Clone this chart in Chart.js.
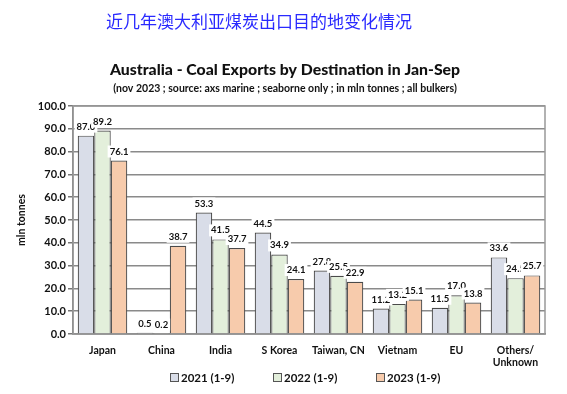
<!DOCTYPE html>
<html>
<head>
<meta charset="utf-8">
<script src="https://cdn.jsdelivr.net/npm/chart.js@4.4.0/dist/chart.umd.min.js"></script>
<style>
  html, body { margin: 0; padding: 0; background: #fff; }
  #wrap { width: 567px; height: 394px; position: relative; }
</style>
</head>
<body>
<div id="wrap"><canvas id="myChart" width="567" height="394"></canvas></div>
<script>
var destinations = ['Japan', 'China', 'India', 'S Korea', 'Taiwan, CN', 'Vietnam', 'EU', ['Others/', 'Unknown']];
var values2021 = [87.0, 0.5, 53.3, 44.5, 27.8, 11.2, 11.5, 33.6];
var values2022 = [89.2, 0.2, 41.5, 34.9, 25.5, 13.2, 17.0, 24.5];
var values2023 = [76.1, 38.7, 37.7, 24.1, 22.9, 15.1, 13.8, 25.7];
var seriesNames = ['2021 (1-9)', '2022 (1-9)', '2023 (1-9)'];
var yTicks = [0, 10, 20, 30, 40, 50, 60, 70, 80, 90, 100];

var FONT = 'Lato, "Open Sans", sans-serif';
var fills = ['#D9DDE8', '#E3EFDB', '#F7CBAC'];

// titles and legend drawn on the canvas
var titlePlugin = {
    id: 'titles',
    afterDraw: function (chart) {
        var ctx = chart.ctx;
        ctx.save();
        ctx.textAlign = 'center';
        ctx.textBaseline = 'middle';
        ctx.fillStyle = '#2a2aff';
        ctx.font = '17px "Noto Sans CJK SC"';
        ctx.fillText('近几年澳大利亚煤炭出口目的地变化情况', 259, 22);
        ctx.fillStyle = '#111';
        ctx.font = '900 15.8px ' + FONT;
        ctx.fillText('Australia - Coal Exports by Destination in Jan-Sep', 285, 70);
        ctx.font = 'bold 10.5px ' + FONT;
        ctx.fillText('(nov 2023 ; source: axs marine ; seaborne only ; in mln tonnes ; all bulkers)', 285, 89);

        // legend
        var legendX = [170, 273, 376];
        ctx.textAlign = 'left';
        ctx.font = 'bold 11.5px ' + FONT;
        for (var i = 0; i < seriesNames.length; i++) {
            ctx.fillStyle = fills[i];
            ctx.fillRect(legendX[i], 373, 8, 8);
            ctx.strokeStyle = '#555';
            ctx.lineWidth = 1;
            ctx.strokeRect(legendX[i] + 0.5, 373.5, 8, 8);
            ctx.fillStyle = '#111';
            ctx.fillText(seriesNames[i], legendX[i] + 11, 378);
        }
        ctx.restore();
    }
};

// plot frame
var framePlugin = {
    id: 'frame',
    beforeDatasetsDraw: function (chart) {
        var a = chart.chartArea, ctx = chart.ctx;
        ctx.save();
        ctx.strokeStyle = '#999';
        ctx.lineWidth = 1.5;
        ctx.strokeRect(a.left, a.top, a.right - a.left, a.bottom - a.top);
        ctx.restore();
    }
};

// value labels with white box
var valueLabels = {
    id: 'valueLabels',
    afterDatasetsDraw: function (chart) {
        var ctx = chart.ctx;
        ctx.save();
        ctx.font = 'bold 9.5px ' + FONT;
        ctx.textAlign = 'center';
        ctx.textBaseline = 'middle';
        chart.data.datasets.forEach(function (ds, di) {
            chart.getDatasetMeta(di).data.forEach(function (bar, i) {
                var txt = ds.data[i].toFixed(1);
                var w = ctx.measureText(txt).width + 4;
                var y = bar.y - 9;
                ctx.fillStyle = '#fff';
                ctx.fillRect(bar.x - w / 2, y - 6, w, 12);
                ctx.fillStyle = '#111';
                ctx.fillText(txt, bar.x, y);
            });
        });
        ctx.restore();
    }
};

new Chart('myChart', {
    type: 'bar',
    data: {
        labels: destinations,
        datasets: [{
            label: seriesNames[0],
            data: values2021,
            backgroundColor: fills[0]
        }, {
            label: seriesNames[1],
            data: values2022,
            backgroundColor: fills[1]
        }, {
            label: seriesNames[2],
            data: values2023,
            backgroundColor: fills[2]
        }]
    },
    options: {
        responsive: false,
        animation: false,
        layout: { padding: { top: 106, left: 15, right: 22, bottom: 0 } },
        datasets: {
            bar: {
                borderColor: '#4a4a4a',
                borderWidth: 1.2,
                categoryPercentage: 0.84,
                barPercentage: 1.0
            }
        },
        plugins: {
            legend: { display: false },
            tooltip: { enabled: false }
        },
        scales: {
            x: {
                grid: { display: false },
                border: { color: '#777', width: 1.5 },
                ticks: {
                    color: '#111',
                    font: { family: FONT, size: 10.5, weight: 'bold' },
                    padding: 2,
                    maxRotation: 0,
                    autoSkip: false
                },
                afterFit: function (scale) { scale.height = 60; }
            },
            y: {
                min: 0,
                max: 100,
                afterBuildTicks: function (scale) {
                    scale.ticks = yTicks.map(function (v) { return { value: v }; });
                },
                grid: { color: '#8a8a8a', lineWidth: 1.5, tickLength: 5, tickColor: '#777' },
                border: { color: '#777', width: 1.5 },
                ticks: {
                    color: '#111',
                    padding: 2,
                    font: { family: FONT, size: 11, weight: 'bold' },
                    callback: function (v) { return Number(v).toFixed(1); }
                },
                title: {
                    display: true,
                    text: 'mln tonnes',
                    color: '#111',
                    font: { family: FONT, size: 10.5, weight: 'bold' },
                    padding: { top: 0, bottom: 4 }
                },
                afterFit: function (scale) { scale.width = 58; }
            }
        }
    },
    plugins: [framePlugin, valueLabels, titlePlugin]
});
</script>
</body>
</html>
